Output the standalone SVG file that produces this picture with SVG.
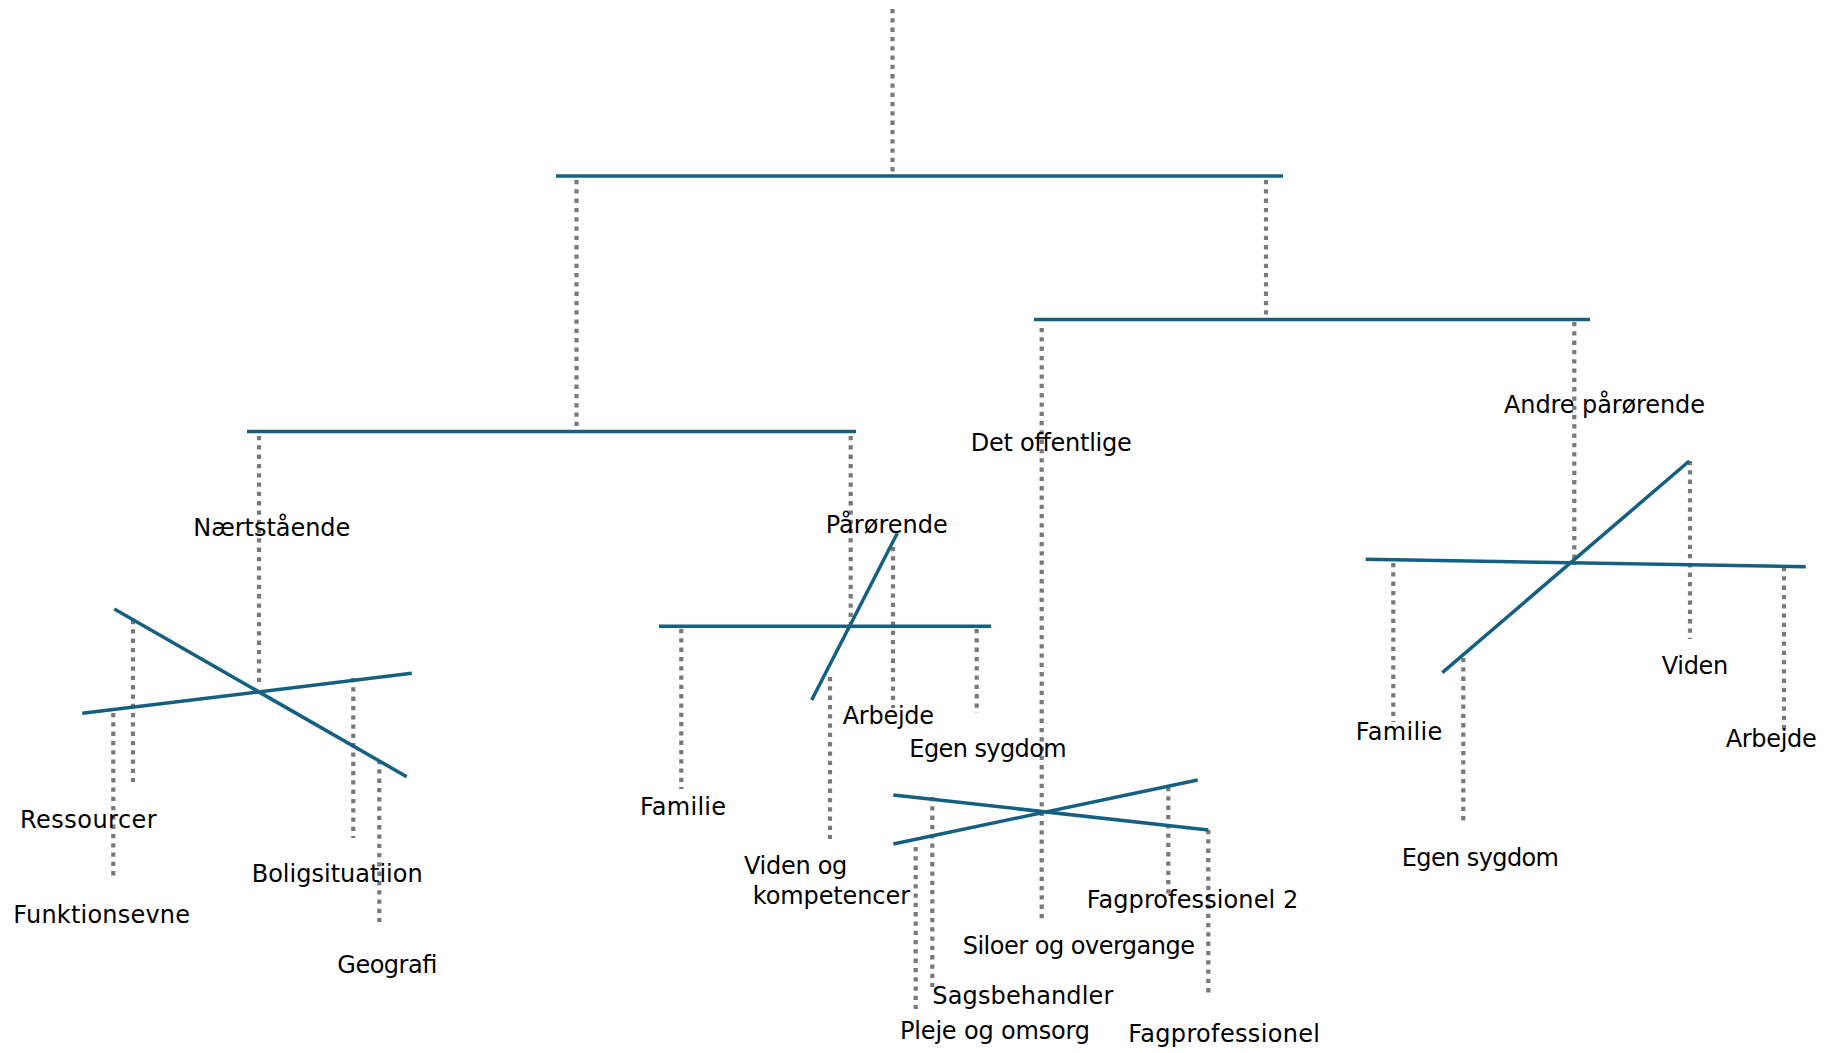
<svg xmlns="http://www.w3.org/2000/svg" width="1839" height="1053" viewBox="0 0 1839 1053">
<style>
.bar{stroke:#156082;stroke-width:3.5;fill:none}
.dot{stroke:#7a7a7a;stroke-width:4.2;stroke-dasharray:4.3 5;fill:none}
.lbl{font-family:"DejaVu Sans","Liberation Sans",sans-serif;font-size:24px;fill:#000}
</style>
<rect width="1839" height="1053" fill="#fff"/>
<g id="connectors">
<line class="dot" x1="892.5" y1="9" x2="892.5" y2="172"/>
<line class="dot" x1="576.5" y1="180" x2="576.5" y2="430"/>
<line class="dot" x1="1266" y1="180" x2="1266" y2="318"/>
<line class="dot" x1="259" y1="436" x2="259" y2="687"/>
<line class="dot" x1="850.7" y1="436" x2="850.7" y2="623"/>
<line class="dot" x1="1041.7" y1="328" x2="1041.7" y2="923"/>
<line class="dot" x1="1574.3" y1="322" x2="1574.3" y2="565"/>
<line class="dot" x1="133" y1="620" x2="133" y2="782"/>
<line class="dot" x1="113.3" y1="713" x2="113.3" y2="876"/>
<line class="dot" x1="353.3" y1="678" x2="353.3" y2="838"/>
<line class="dot" x1="379.3" y1="760" x2="379.3" y2="922"/>
<line class="dot" x1="893" y1="547" x2="893" y2="708"/>
<line class="dot" x1="976.7" y1="629" x2="976.7" y2="713"/>
<line class="dot" x1="681.3" y1="629" x2="681.3" y2="789"/>
<line class="dot" x1="830" y1="677" x2="830" y2="839"/>
<line class="dot" x1="932.3" y1="797" x2="932.3" y2="987"/>
<line class="dot" x1="915.7" y1="847" x2="915.7" y2="1009"/>
<line class="dot" x1="1168.3" y1="787" x2="1168.3" y2="895"/>
<line class="dot" x1="1208.3" y1="830" x2="1208.3" y2="993"/>
<line class="dot" x1="1690" y1="461" x2="1690" y2="639"/>
<line class="dot" x1="1393.3" y1="563" x2="1393.3" y2="722"/>
<line class="dot" x1="1463.3" y1="658" x2="1463.3" y2="821"/>
<line class="dot" x1="1784" y1="567" x2="1784" y2="730"/>
</g>
<g id="bars">
<line class="bar" x1="556" y1="176" x2="1283" y2="176"/>
<line class="bar" x1="247" y1="431.6" x2="856" y2="431.6"/>
<line class="bar" x1="1034" y1="319.5" x2="1590" y2="319.5"/>
<line class="bar" x1="114.3" y1="609" x2="406.7" y2="776.7"/>
<line class="bar" x1="82.3" y1="713.3" x2="411.7" y2="673.3"/>
<line class="bar" x1="659" y1="626.3" x2="991" y2="626.3"/>
<line class="bar" x1="897.3" y1="533.3" x2="811.7" y2="700"/>
<line class="bar" x1="893.3" y1="795" x2="1208.3" y2="830"/>
<line class="bar" x1="893.3" y1="844" x2="1197.7" y2="780"/>
<line class="bar" x1="1365.7" y1="559.3" x2="1805.7" y2="566.7"/>
<line class="bar" x1="1689.3" y1="461" x2="1442.3" y2="672.7"/>
</g>
<g id="n-naertstaaende"><text class="lbl" x="193.3" y="535.7" textLength="157" lengthAdjust="spacing">Nærtstående</text></g>
<g id="n-paaroerende"><text class="lbl" x="825.7" y="533.3" textLength="122" lengthAdjust="spacing">Pårørende</text></g>
<g id="n-det-offentlige"><text class="lbl" x="970.7" y="450.7" textLength="161" lengthAdjust="spacing">Det offentlige</text></g>
<g id="n-andre-paaroerende"><text class="lbl" x="1504" y="413.3" textLength="201" lengthAdjust="spacing">Andre pårørende</text></g>
<g id="n-ressourcer"><text class="lbl" x="20" y="828.3" textLength="136.7" lengthAdjust="spacing">Ressourcer</text></g>
<g id="n-funktionsevne"><text class="lbl" x="13.3" y="922.7" textLength="176.7" lengthAdjust="spacing">Funktionsevne</text></g>
<g id="n-boligsituation"><text class="lbl" x="251.7" y="882.3" textLength="171" lengthAdjust="spacing">Boligsituatiion</text></g>
<g id="n-geografi"><text class="lbl" x="337.3" y="973.3" textLength="100" lengthAdjust="spacing">Geografi</text></g>
<g id="n-familie-1"><text class="lbl" x="640" y="815" textLength="86" lengthAdjust="spacing">Familie</text></g>
<g id="n-arbejde-1"><text class="lbl" x="842.7" y="724" textLength="91.3" lengthAdjust="spacing">Arbejde</text></g>
<g id="n-egen-sygdom-1"><text class="lbl" x="909.3" y="757.3" textLength="157.4" lengthAdjust="spacing">Egen sygdom</text></g>
<g id="n-viden-kompetencer"><text class="lbl" x="744" y="874.3" textLength="103.3" lengthAdjust="spacing">Viden og</text><text class="lbl" x="752.7" y="904.3" textLength="157.3" lengthAdjust="spacing">kompetencer</text></g>
<g id="n-fagprofessionel-2"><text class="lbl" x="1086.7" y="907.7" textLength="211.6" lengthAdjust="spacing">Fagprofessionel 2</text></g>
<g id="n-siloer"><text class="lbl" x="962.7" y="954.3" textLength="232.3" lengthAdjust="spacing">Siloer og overgange</text></g>
<g id="n-sagsbehandler"><text class="lbl" x="932.3" y="1004.3" textLength="181" lengthAdjust="spacing">Sagsbehandler</text></g>
<g id="n-pleje"><text class="lbl" x="900" y="1039" textLength="190" lengthAdjust="spacing">Pleje og omsorg</text></g>
<g id="n-fagprofessionel"><text class="lbl" x="1128.3" y="1041.7" textLength="191.7" lengthAdjust="spacing">Fagprofessionel</text></g>
<g id="n-viden-2"><text class="lbl" x="1661.7" y="674.3" textLength="66.6" lengthAdjust="spacing">Viden</text></g>
<g id="n-familie-2"><text class="lbl" x="1355.7" y="740" textLength="86.6" lengthAdjust="spacing">Familie</text></g>
<g id="n-arbejde-2"><text class="lbl" x="1725.7" y="746.7" textLength="91" lengthAdjust="spacing">Arbejde</text></g>
<g id="n-egen-sygdom-2"><text class="lbl" x="1401.7" y="866" textLength="157.3" lengthAdjust="spacing">Egen sygdom</text></g>
</svg>
